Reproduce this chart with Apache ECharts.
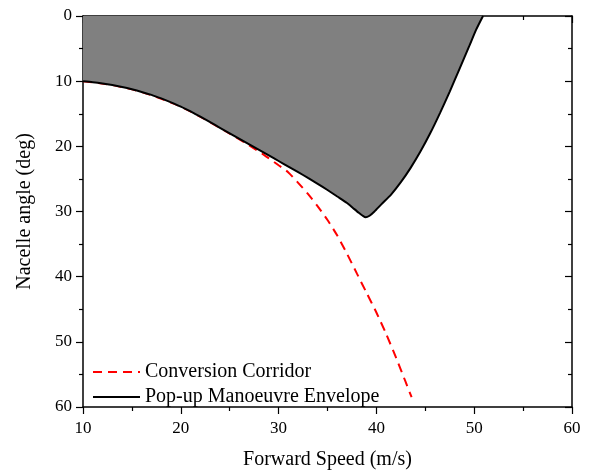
<!DOCTYPE html>
<html>
<head>
<meta charset="utf-8">
<script src="https://cdn.jsdelivr.net/npm/echarts@6/dist/echarts.min.js"></script>
<style>
html,body{margin:0;padding:0;background:#fff;}
#chart{width:590px;height:475px;}
</style>
</head>
<body>
<div id="chart"></div>
<script>
// Pop-up Manoeuvre Envelope boundary: forward speed (m/s) vs nacelle angle (deg)
const envelopeSpeed = [10, 11, 12, 13, 14, 15, 16, 17, 18, 19, 20, 21, 22, 23, 24, 25, 26, 27, 28, 29, 30, 31, 32, 33, 34, 35, 36, 37, 37.6, 38.2, 38.6, 38.9, 39.3, 39.8, 40.5, 41.5, 42.5, 43.5, 44.5, 45.5, 46.5, 47.5, 48.5, 49.5, 50.2, 50.9];
const envelopeAngle = [10.0, 10.15, 10.35, 10.6, 10.9, 11.25, 11.65, 12.1, 12.65, 13.25, 13.9, 14.65, 15.45, 16.3, 17.15, 18.0, 18.85, 19.7, 20.55, 21.4, 22.25, 23.1, 23.95, 24.85, 25.75, 26.7, 27.7, 28.7, 29.45, 30.2, 30.65, 30.9, 30.65, 30.0, 28.9, 27.4, 25.5, 23.3, 20.8, 18.0, 14.9, 11.6, 8.1, 4.6, 2.1, 0];
// Conversion Corridor
const corridorSpeed = [10, 13, 16, 20, 23, 25, 27, 28.5, 30, 31, 32, 33, 34, 35, 36, 37, 38, 39, 40, 41, 42, 43, 43.6];
const corridorAngle = [10.0, 10.6, 11.65, 13.9, 16.3, 18.05, 19.85, 21.3, 22.9, 24.0, 25.6, 27.3, 29.2, 31.3, 33.7, 36.5, 39.5, 42.5, 45.5, 48.8, 52.4, 56.2, 58.5];
const xTicks = [10, 20, 30, 40, 50, 60];
const yTicks = [0, 10, 20, 30, 40, 50, 60];
const seriesNames = ['Conversion Corridor', 'Pop-up Manoeuvre Envelope'];

const FONT = '"Liberation Serif", "Times New Roman", serif';
const zip = (a, b) => a.map((v, i) => [v, b[i]]);

const axisCommon = {
  type: 'value',
  interval: 10,
  axisLine: { show: true, onZero: false, lineStyle: { color: '#000', width: 1.5 } },
  splitLine: { show: false },
  minorTick: { show: true, splitNumber: 2, length: 4, lineStyle: { color: '#000', width: 1.2 } },
  axisLabel: { color: '#000', fontSize: 17, fontFamily: FONT },
  nameTextStyle: { color: '#000', fontSize: 20, fontFamily: FONT }
};

const chart = echarts.init(document.getElementById('chart'), null, { renderer: 'canvas' });
chart.setOption({
  animation: false,
  backgroundColor: '#fff',
  grid: { left: 83, right: 18, top: 16, bottom: 64 },
  legend: {
    orient: 'vertical',
    left: 92,
    top: 362,
    padding: 0,
    itemWidth: 47,
    itemHeight: 14,
    itemGap: 5,
    itemStyle: { opacity: 0 },
    textStyle: { color: '#000', fontSize: 20, fontFamily: FONT },
    data: seriesNames
  },
  xAxis: [
    Object.assign({}, axisCommon, {
      min: xTicks[0], max: xTicks[xTicks.length - 1], position: 'bottom',
      axisTick: { show: true, inside: false, length: 7, lineStyle: { color: '#000', width: 1.2 } },
      axisLabel: Object.assign({}, axisCommon.axisLabel, { margin: 13 }),
      name: 'Forward Speed (m/s)', nameLocation: 'middle', nameGap: 43
    }),
    Object.assign({}, axisCommon, {
      min: xTicks[0], max: xTicks[xTicks.length - 1], position: 'top',
      axisTick: { show: true, inside: true, length: 7, lineStyle: { color: '#000', width: 1.2 } },
      axisLabel: { show: false }
    })
  ],
  yAxis: [
    Object.assign({}, axisCommon, {
      min: yTicks[0], max: yTicks[yTicks.length - 1], inverse: true, position: 'left',
      axisTick: { show: true, inside: false, length: 7, lineStyle: { color: '#000', width: 1.2 } },
      axisLabel: Object.assign({}, axisCommon.axisLabel, { margin: 11 }),
      name: 'Nacelle angle (deg)', nameLocation: 'middle', nameGap: 48
    }),
    Object.assign({}, axisCommon, {
      min: yTicks[0], max: yTicks[yTicks.length - 1], inverse: true, position: 'right',
      axisTick: { show: true, inside: true, length: 7, lineStyle: { color: '#000', width: 1.2 } },
      axisLabel: { show: false }
    })
  ],
  series: [
    {
      name: seriesNames[0],
      type: 'line',
      xAxisIndex: 0, yAxisIndex: 0,
      data: zip(corridorSpeed, corridorAngle),
      symbol: 'none',
      smooth: 0.2,
      lineStyle: { color: '#ff0000', width: 2, type: [9, 6] },
      itemStyle: { color: '#ff0000' },
      z: 2
    },
    {
      name: seriesNames[1],
      type: 'line',
      xAxisIndex: 0, yAxisIndex: 0,
      data: zip(envelopeSpeed, envelopeAngle),
      symbol: 'none',
      smooth: 0.2,
      lineStyle: { color: '#000', width: 2 },
      itemStyle: { color: '#000' },
      areaStyle: { color: '#808080', opacity: 1, origin: 'start' },
      z: 3
    }
  ]
});
</script>
</body>
</html>
